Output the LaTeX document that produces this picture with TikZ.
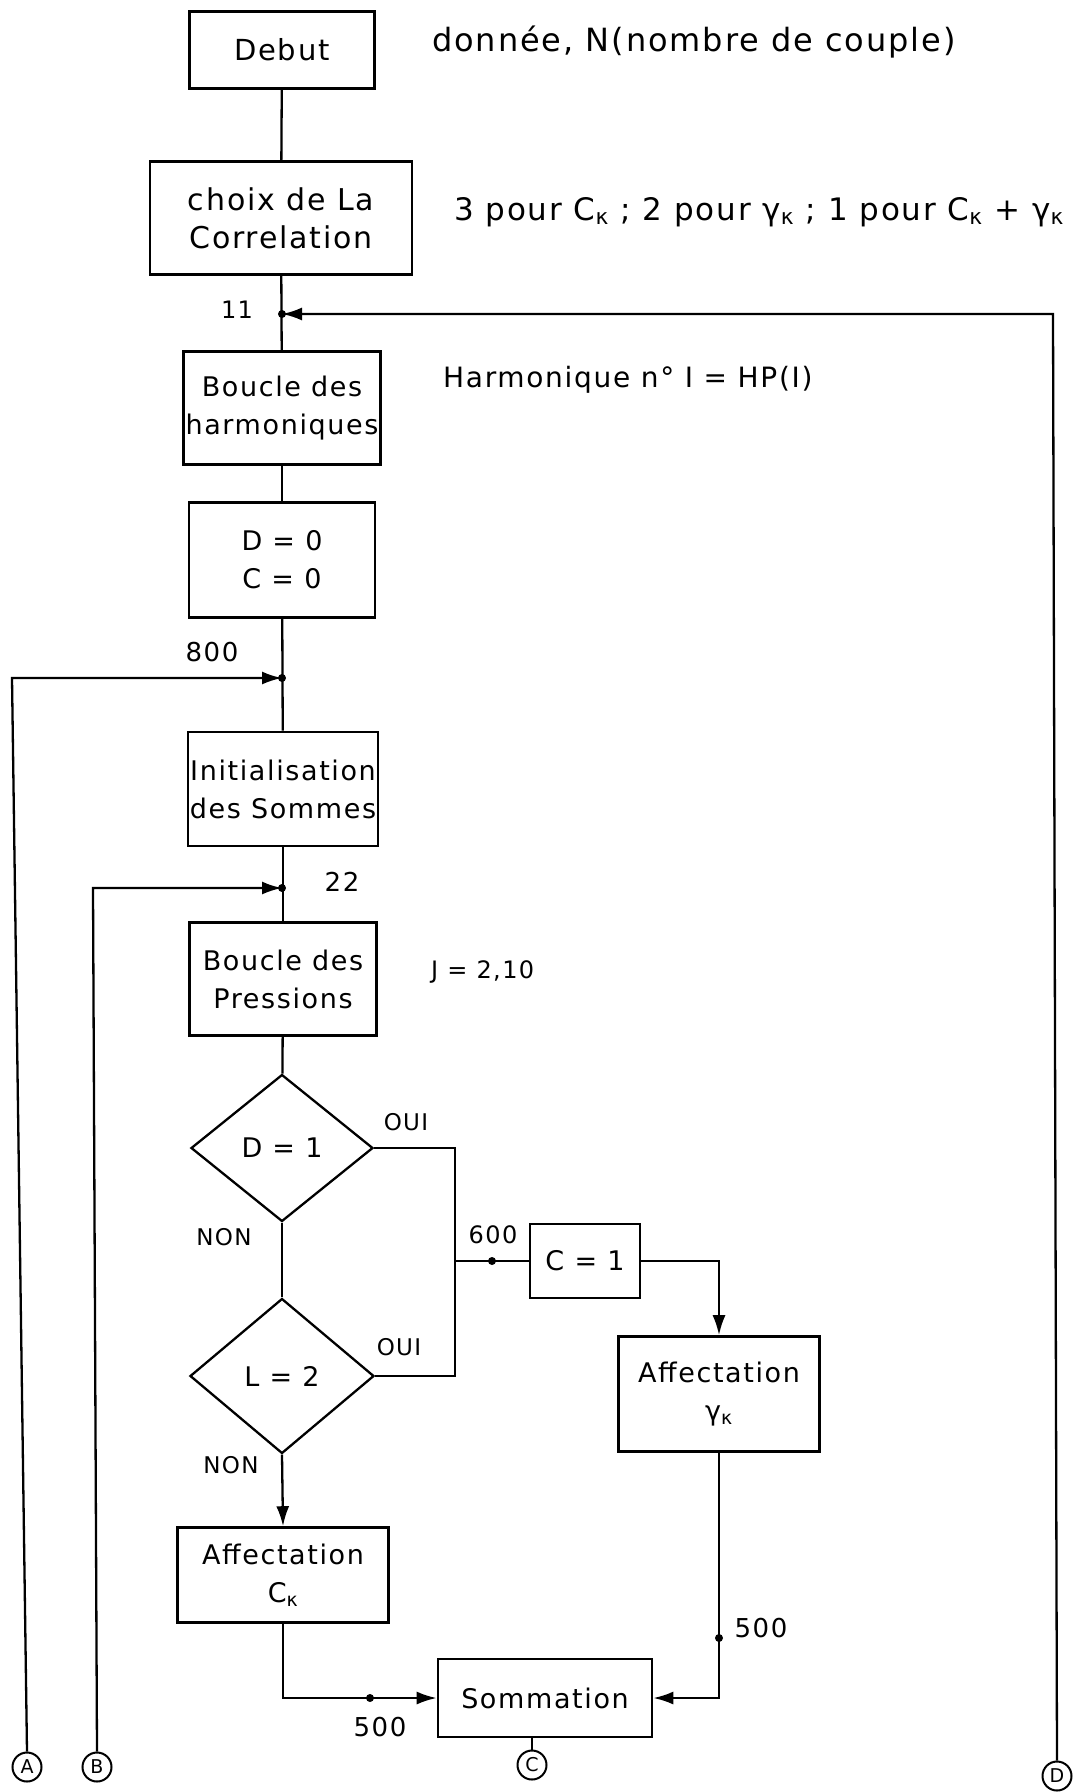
\documentclass[tikz,border=0pt]{standalone}
\usepackage{fontspec}
\setmainfont{DejaVu Sans}[LetterSpace=6]
\usetikzlibrary{arrows.meta,shapes.geometric}
\begin{document}
\begin{tikzpicture}[x=1pt,y=-1pt,
  box/.style={draw, line width=2.6pt, rectangle, align=center, inner sep=2pt,
    font=\fontsize{27}{38}\selectfont},
  dia/.style={draw, line width=2.3pt, diamond, inner sep=0pt, align=center,
    font=\fontsize{27}{32}\selectfont},
  conn/.style={draw, line width=2pt, circle, minimum size=29pt, inner sep=0pt,
    font=\fontsize{19}{19}\selectfont},
  ln/.style={line width=2.3pt},
  arr/.style={-{Latex[length=20pt,width=13pt]}},
  lbl/.style={font=\fontsize{24}{28}\selectfont, inner sep=0pt},
  side/.style={font=\fontsize{31}{36}\selectfont, inner sep=0pt, anchor=west},
  dot/.style={fill=black}
]
\useasboundingbox (0,0) rectangle (1074,1792);
\fill[white] (0,0) rectangle (1074,1792);

% main column
\node[box, minimum width=185pt, minimum height=77pt, font=\fontsize{29}{38}\selectfont] (debut) at (282,50) {Debut};
\node[box, minimum width=262pt, minimum height=113pt, font=\fontsize{30}{38}\selectfont] (choix) at (281,218) {choix de La\\Correlation};
\coordinate (j11) at (282,314);
\node[box, minimum width=186pt, minimum height=113pt] (harm) at (282,408) {Boucle des\\harmoniques};
\node[box, minimum width=186pt, minimum height=115pt] (dc) at (282,560) {D = 0\\C = 0};
\coordinate (j800) at (282,678);
\node[box, minimum width=187pt, minimum height=114pt] (init) at (283,789) {Initialisation\\des Sommes};
\coordinate (j22) at (282,888);
\node[box, minimum width=187pt, minimum height=113pt] (press) at (283,979) {Boucle des\\Pressions};
\node[dia, minimum width=182pt, minimum height=147pt] (d1) at (282,1148) {D = 1};
\node[dia, minimum width=184pt, minimum height=155pt] (l2) at (282,1376) {L = 2};
\node[box, minimum width=110pt, minimum height=74pt] (c1) at (585,1261) {C = 1};
\node[box, minimum width=201pt, minimum height=115pt] (affg) at (719,1394) {Affectation\\γ\textsubscript{κ}};
\node[box, minimum width=211pt, minimum height=95pt] (affc) at (283,1575) {Affectation\\C\textsubscript{κ}};
\node[box, minimum width=214pt, minimum height=78pt] (somm) at (545,1698) {Sommation};

% connectors circles
\node[conn] (cA) at (27,1767) {A};
\node[conn] (cB) at (97,1767) {B};
\node[conn] (cC) at (532,1765) {C};
\node[conn] (cD) at (1057,1776) {D};

% helper coordinates
\coordinate (atop) at (12,678);
\coordinate (btop) at (93,888);
\coordinate (dtop) at (1053,314);
\coordinate (m1) at (455,1148);
\coordinate (m2) at (455,1376);
\coordinate (m3) at (455,1261);
\coordinate (j600) at (492,1261);
\coordinate (j500a) at (370,1698);
\coordinate (j500b) at (719,1638);

% main vertical links
\draw[ln] (debut) -- (choix);
\draw[ln] (choix) -- (harm);
\draw[ln] (harm) -- (dc);
\draw[ln] (dc) -- (init);
\draw[ln] (init) -- (press);
\draw[ln] (press) -- (d1);
\draw[ln] (d1) -- (l2);
\draw[ln,arr] (l2.south) -- (affc.north);

% loops
\draw[ln,arr] (cD.north) -- (dtop) -- (j11);
\draw[ln,arr] (cA.north) -- (atop) -- (j800);
\draw[ln,arr] (cB.north) -- (btop) -- (j22);

% OUI branches
\draw[ln] (d1.east) -- (m1) -- (m2) -- (l2.east);
\draw[ln] (m3) -- (c1.west);
\draw[ln,arr] (c1.east) -- (c1.east -| affg.north) -- (affg.north);

% to sommation
\draw[ln,arr] (affc.south) |- (somm.west);
\draw[ln,arr] (affg.south) |- (somm.east);
\draw[ln] (somm.south -| cC.north) -- (cC.north);

% junction dots
\foreach \p in {j11,j800,j22,j600,j500a,j500b} \fill[dot] (\p) circle (4);

% labels
\node[lbl] (l11) at (237,310) {11};
\node[lbl, font=\fontsize{26}{28}\selectfont] (l800) at (212,652) {800};
\node[lbl, font=\fontsize{26}{28}\selectfont] (l22) at (342,882) {22};
\node[lbl, font=\fontsize{23}{26}\selectfont] (oui1) at (406,1122) {OUI};
\node[lbl, font=\fontsize{23}{26}\selectfont] (oui2) at (399,1347) {OUI};
\node[lbl, font=\fontsize{23}{26}\selectfont] (non1) at (224,1237) {NON};
\node[lbl, font=\fontsize{23}{26}\selectfont] (non2) at (231,1465) {NON};
\node[lbl] (l600) at (493,1235) {600};
\node[lbl, font=\fontsize{26}{28}\selectfont] (l500a) at (380,1727) {500};
\node[lbl, font=\fontsize{26}{28}\selectfont] (l500b) at (761,1628) {500};

% side notes
\node[side, font=\fontsize{32}{36}\selectfont] (t1) at (432,42) {donnée, N(nombre de couple)};
\node[side] (t2) at (454,212) {3 pour C\textsubscript{κ} ; 2 pour γ\textsubscript{κ} ; 1 pour C\textsubscript{κ} + γ\textsubscript{κ}};
\node[side, font=\fontsize{28}{32}\selectfont] (t3) at (443,380) {Harmonique n° I = HP(I)};
\node[side, font=\fontsize{24}{28}\selectfont] (t4) at (431,972) {J = 2,10};
\end{tikzpicture}
\end{document}
